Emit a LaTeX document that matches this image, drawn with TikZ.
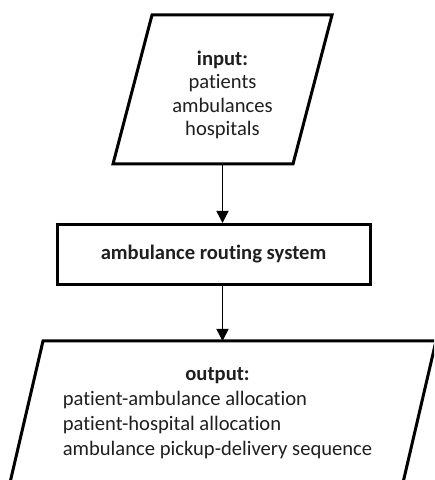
\documentclass[tikz,border=0pt]{standalone}
\usepackage{fontspec}
\setmainfont{Carlito}[Ligatures=NoCommon]
\usetikzlibrary{positioning, arrows.meta}

\begin{document}
\begin{tikzpicture}[>={Triangle[length=6pt,width=6pt]}, x=1pt, y=1pt,
    every node/.style={font=\fontsize{10.3pt}{12.5pt}\selectfont, text=black!88},
    frame/.style={rectangle, inner sep=0pt, outer sep=0pt},
    ioline/.style={line width=1.5pt, line join=miter},
    process/.style={draw, line width=1.5pt, rectangle, minimum width=156.5pt, minimum height=30pt, font=\fontsize{10.3pt}{12.5pt}\selectfont\bfseries},
    flow/.style={->, line width=0.75pt}]
    \useasboundingbox (0,0) rectangle (217,240);
    \clip (0,0) rectangle (217,240);

    % Input data
    \node[frame, minimum width=109.5pt, minimum height=74.5pt] (inp) at (111.25,195.25) {};
    \draw[ioline] ([xshift=19.5pt]inp.north west) -- (inp.north east)
        -- ([xshift=-19.5pt]inp.south east) -- (inp.south west) -- cycle;
    \node[align=center, font=\fontsize{10.3pt}{11.7pt}\selectfont] (inptext) at ([yshift=-2.75pt]inp.center)
        {\textbf{input:}\\patients\\ambulances\\hospitals};

    % Routing system
    \node[process, below=29.5pt of inp, xshift=-4.5pt] (sys) {ambulance routing system};

    % Output data
    \node[frame, minimum width=213.5pt, minimum height=73pt, below=27.5pt of sys, xshift=4.5pt] (out) {};
    \draw[ioline] ([xshift=17pt]out.north west) -- (out.north east)
        -- ([xshift=-17pt]out.south east) -- (out.south west) -- cycle;
    \node[font=\fontsize{10.3pt}{12.5pt}\selectfont] (outtext) at ([xshift=-2.5pt,yshift=0.5pt]out.center)
        {\begin{tabular}{@{}l@{}}
            \multicolumn{1}{c}{\textbf{output:}}\\
            patient-ambulance allocation\\
            patient-hospital allocation\\
            ambulance pickup-delivery sequence
          \end{tabular}};

    % Arrows
    \draw[flow] (inp.south) -- (inp.south |- sys.north);
    \draw[flow] (sys.south -| inp.south) -- (inp.south |- out.north);
\end{tikzpicture}
\end{document}
